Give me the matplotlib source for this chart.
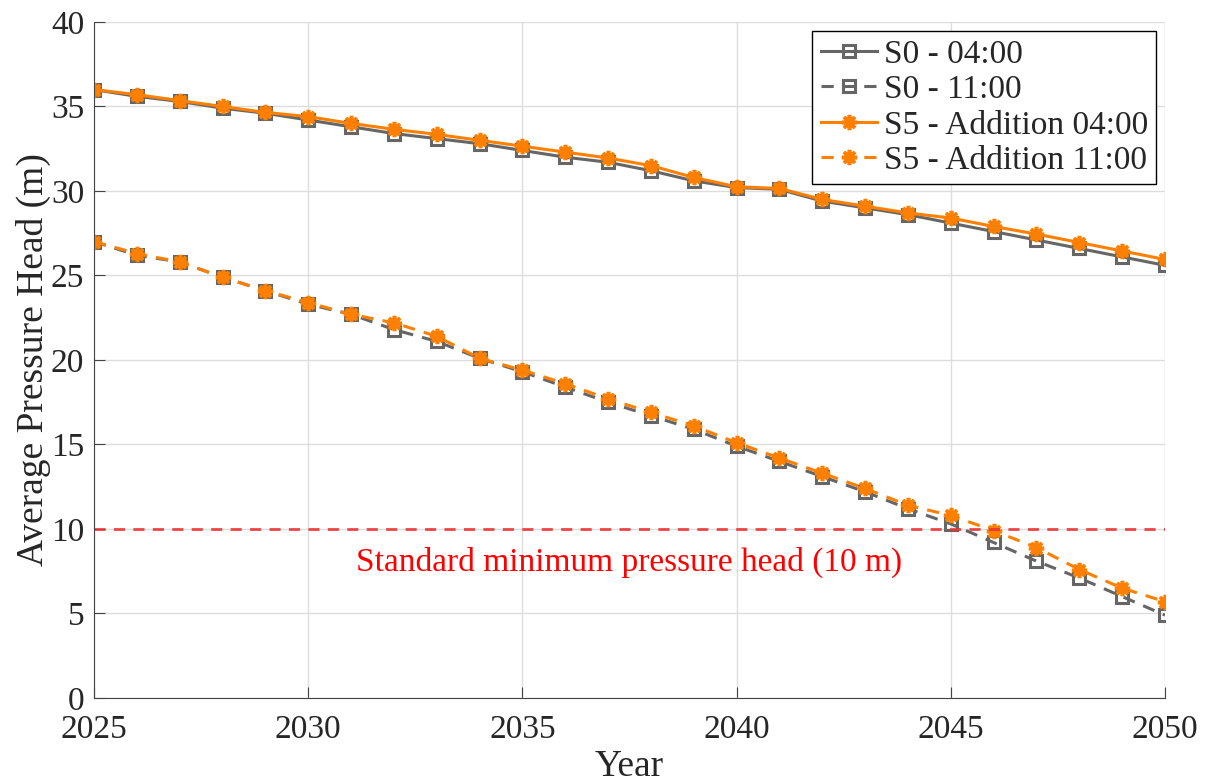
import matplotlib.pyplot as plt

plt.rcParams['font.family'] = ['Liberation Serif', 'DejaVu Serif']

anos = list(range(2025, 2051))

s0_0400 = [36.0, 35.6, 35.3, 34.9, 34.6, 34.2, 33.8, 33.4, 33.1, 32.8,
           32.4, 32.0, 31.7, 31.2, 30.6, 30.2, 30.1, 29.4, 29.0, 28.6,
           28.1, 27.6, 27.1, 26.6, 26.1, 25.6]
s0_1100 = [27.0, 26.2, 25.8, 24.9, 24.1, 23.3, 22.7, 21.8, 21.1, 20.1,
           19.3, 18.4, 17.5, 16.7, 15.9, 14.9, 14.0, 13.1, 12.2, 11.2,
           10.3, 9.2, 8.1, 7.1, 6.0, 4.9]
s5_0400 = [36.0, 35.7, 35.35, 35.0, 34.65, 34.4, 34.0, 33.65, 33.35, 33.0,
           32.65, 32.3, 31.95, 31.5, 30.8, 30.25, 30.15, 29.5, 29.1, 28.7,
           28.4, 27.9, 27.45, 26.95, 26.45, 25.95]
s5_1100 = [27.0, 26.3, 25.8, 24.9, 24.1, 23.4, 22.7, 22.2, 21.4, 20.1,
           19.4, 18.6, 17.7, 16.9, 16.1, 15.1, 14.2, 13.3, 12.4, 11.4,
           10.8, 9.9, 8.9, 7.6, 6.5, 5.7]

limite = 10
cinza = '#666666'
laranja = '#FF8000'
texto = '#262626'
asterisco = (8, 2, 0)

fig = plt.figure(figsize=(12.1, 7.83), dpi=100)
ax = fig.add_axes([0.0777, 0.1086, 0.8851, 0.8633])

ax.plot(anos, s0_0400, '-', color=cinza, lw=2.2, marker='s', ms=8,
        mfc='none', mew=2.2, label='S0 - 04:00')
ax.plot(anos, s0_1100, '--', color=cinza, lw=2.2, marker='s', ms=8,
        mfc='none', mew=2.2, label='S0 - 11:00', dashes=(4, 3))
ax.plot(anos, s5_0400, '-', color=laranja, lw=2.2, marker=asterisco, ms=11,
        mew=2.6, label='S5 - Addition 04:00')
ax.plot(anos, s5_1100, '--', color=laranja, lw=2.2, marker=asterisco, ms=11,
        mew=2.6, label='S5 - Addition 11:00', dashes=(4, 3))

ax.axhline(limite, color='#EE3333', ls='--', lw=2, alpha=0.9, dashes=(4, 3))
ax.text(2037.5, 8.0, 'Standard minimum pressure head (10 m)', color='red',
        fontsize=24, ha='center', va='center')

ax.set_xlim(2025, 2050)
ax.set_ylim(0, 40)
ax.set_xticks(range(2025, 2051, 5))
ax.set_yticks(range(0, 41, 5))
ax.grid(True, color='#DDDDDD', lw=1)
ax.tick_params(direction='in', labelsize=24, length=8, color='#444444',
               labelcolor=texto)
ax.tick_params(axis='x', pad=12)
ax.tick_params(axis='y', pad=7)
for s in ['top', 'right']:
    ax.spines[s].set_visible(False)
for s in ['left', 'bottom']:
    ax.spines[s].set_color('#444444')

ax.set_xlabel('Year', fontsize=27, labelpad=3, color=texto)
ax.set_ylabel('Average Pressure Head (m)', fontsize=27, labelpad=0,
              color=texto)

leg = ax.legend(loc='upper right', fontsize=24, handlelength=1.7,
                handletextpad=0.2, borderpad=0.25, labelspacing=0.15,
                borderaxespad=0, fancybox=False, edgecolor='black',
                framealpha=1, bbox_to_anchor=(0.992, 0.987))
leg.get_frame().set_linewidth(1)
for t in leg.get_texts():
    t.set_color(texto)

fig.savefig('out.png')
